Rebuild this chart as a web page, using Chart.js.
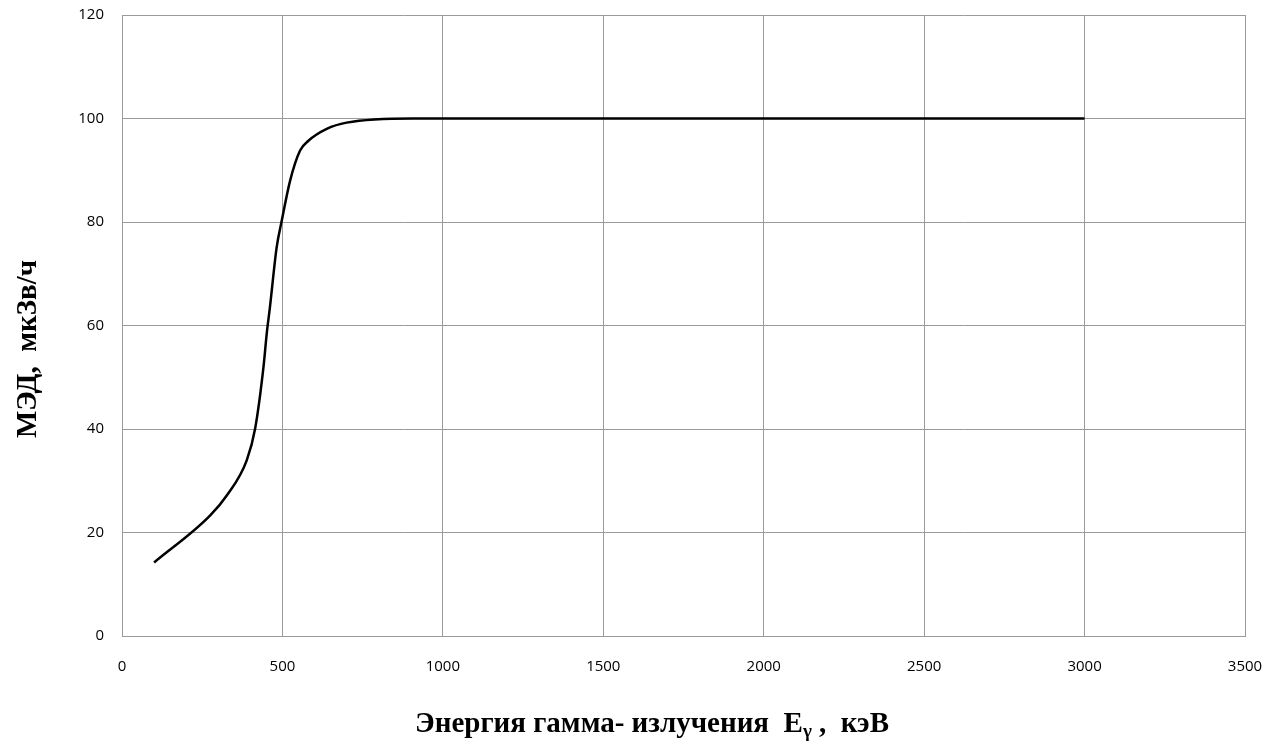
<!DOCTYPE html>
<html>
<head>
<meta charset="utf-8">
<script src="https://cdn.jsdelivr.net/npm/chart.js@4/dist/chart.umd.min.js"></script>
<style>
  html, body { margin: 0; padding: 0; background: #fff; }
  #wrap { width: 1282px; height: 742px; }
</style>
</head>
<body>
<div id="wrap"><canvas id="chart"></canvas></div>
<script>
// energy, keV
var energy = [100, 275, 327, 389, 415, 441, 451, 461, 482, 498, 524, 555, 581, 638, 700, 907, 3000]
// dose rate, uSv/h
var doseRate = [14.2, 23.3, 27.2, 34.0, 40.1, 52.0, 58.4, 63.5, 75.1, 80.3, 88.0, 93.8, 95.7, 98.0, 99.2, 100, 100]

var xTitle = ['Энергия гамма- излучения  E', 'γ', ' ,  кэВ']
var yTitle = 'МЭД,  мкЗв/ч'

var points = energy.map(function (e, i) { return { x: e, y: doseRate[i] } })

var gridColor = '#9a9a9a'
var tickFont = { family: 'Open Sans', size: 15 }

// axis titles drawn by hand so the subscript gamma can be placed
var titlesPlugin = {
  id: 'titles',
  afterDraw: function (chart) {
    var ctx = chart.ctx
    ctx.save()
    ctx.fillStyle = '#000'
    ctx.textBaseline = 'alphabetic'

    var big = 'bold 29px "Liberation Serif"'
    var small = 'bold 19px "Liberation Serif"'
    ctx.font = big
    var w0 = ctx.measureText(xTitle[0]).width
    var w2 = ctx.measureText(xTitle[2]).width
    ctx.font = small
    var w1 = ctx.measureText(xTitle[1]).width
    var x = 652 - (w0 + w1 + w2) / 2
    var y = 732
    ctx.font = big
    ctx.fillText(xTitle[0], x, y)
    ctx.font = small
    ctx.fillText(xTitle[1], x + w0, y + 5)
    ctx.font = big
    ctx.fillText(xTitle[2], x + w0 + w1, y)

    ctx.translate(36, 349)
    ctx.rotate(-Math.PI / 2)
    ctx.textAlign = 'center'
    ctx.font = big
    ctx.fillText(yTitle, 0, 0)
    ctx.restore()
  }
}

new Chart(document.getElementById('chart').getContext('2d'), {
  type: 'scatter',
  data: {
    datasets: [{
      data: points,
      showLine: true,
      borderColor: '#000',
      borderWidth: 2.5,
      pointRadius: 0,
      cubicInterpolationMode: 'monotone'
    }]
  },
  options: {
    responsive: true,
    maintainAspectRatio: false,
    animation: false,
    layout: { padding: { left: 0, right: 37, top: 15, bottom: 0 } },
    plugins: { legend: { display: false }, tooltip: { enabled: false } },
    scales: {
      x: {
        type: 'linear',
        min: 0,
        max: 3500,
        ticks: {
          stepSize: 500, color: '#000', font: tickFont, padding: 22, maxRotation: 0,
          callback: function (v) { return String(v) }
        },
        grid: { color: gridColor, lineWidth: 1, drawTicks: false },
        border: { color: gridColor },
        afterFit: function (scale) {
          scale.height = 106
          scale.paddingLeft = 0
          scale.paddingRight = 0
        }
      },
      y: {
        min: 0,
        max: 120,
        ticks: { stepSize: 20, color: '#000', font: tickFont, padding: 18 },
        grid: { color: gridColor, lineWidth: 1, drawTicks: false },
        border: { color: gridColor },
        afterFit: function (scale) {
          scale.width = 122
          scale.paddingTop = 0
          scale.paddingBottom = 0
        }
      }
    }
  },
  plugins: [titlesPlugin]
})
</script>
</body>
</html>
